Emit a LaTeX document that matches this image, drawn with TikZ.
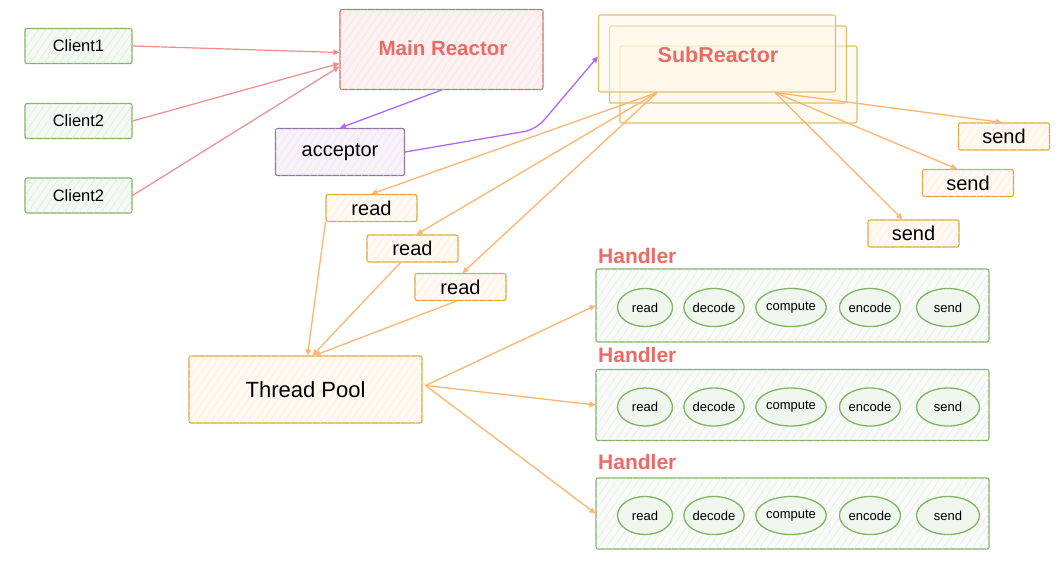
\documentclass[tikz,border=0pt]{standalone}
\usepackage{fontspec}
\setmainfont{Liberation Sans}
\usetikzlibrary{arrows.meta,patterns.meta,shapes.geometric}
\definecolor{redtxt}{HTML}{EA6B66}
\definecolor{redline}{HTML}{B85450}
\definecolor{redfill}{HTML}{F8CECC}
\definecolor{grnline}{HTML}{82B366}
\definecolor{grnfill}{HTML}{D5E8D4}
\definecolor{purline}{HTML}{9673A6}
\definecolor{purfill}{HTML}{E1D5E7}
\definecolor{yelline}{HTML}{D6B656}
\definecolor{yelfill}{HTML}{FFF2CC}
\definecolor{orgline}{HTML}{DDA93A}
\definecolor{orgfill}{HTML}{FFE6CC}
\definecolor{arrred}{HTML}{F08C8C}
\definecolor{arrpur}{HTML}{B266FF}
\definecolor{arrorg}{HTML}{FFB570}
\tikzset{
  hatch/.style={postaction={pattern={Lines[angle=55,distance=6pt,line width=0.4pt]},pattern color=#1}},
  bx/.style={draw, line width=1.1pt, rounded corners=2pt, inner sep=0pt},
  gbox/.style={bx, draw=grnline, fill=grnfill!30, hatch=grnfill!90!black!50, font=\fontsize{16.5}{19}\selectfont, minimum width=107pt, minimum height=35pt},
  rbox/.style={bx, draw=redline!80, fill=redfill!30, hatch=redfill!80!black!30},
  pbox/.style={bx, draw=purline, fill=purfill!30, hatch=purfill!90!black!40, font=\fontsize{20}{24}\selectfont},
  ybox/.style={bx, draw=yelline, fill=yelfill!50, fill opacity=0.5, draw opacity=0.85},
  obox/.style={bx, draw=orgline, fill=orgfill!30, hatch=orgfill!90!black!35, font=\fontsize{20}{24}\selectfont, minimum width=91pt, minimum height=27pt},
  hbox/.style={bx, draw=grnline, fill=grnfill!20, hatch=grnfill!80!black!30, minimum width=393pt},
  ell/.style={ellipse, draw=grnline, line width=1.3pt, fill=grnfill!40, inner sep=0pt, minimum height=38pt, font=\fontsize{13}{15}\selectfont},
  htitle/.style={anchor=west, text=redtxt, font=\bfseries\fontsize{21}{24}\selectfont, inner sep=0pt},
  tip/.style={-{Triangle[length=6pt,width=5.5pt]}},
  rarrow/.style={tip, draw=arrred, line width=1.2pt},
  parrow/.style={tip, draw=arrpur, line width=1.3pt},
  oarrow/.style={tip, draw=arrorg, line width=1.3pt},
}
\begin{document}
\begin{tikzpicture}[x=1pt,y=-1pt]
\useasboundingbox (0,0) rectangle (1058,566);
\fill[white] (0,0) rectangle (1058,566);

% clients
\node[gbox] (c1) at (78.5,46) {Client1};
\node[gbox] (c2) at (78.5,121) {Client2};
\node[gbox] (c3) at (78.5,195.5) {Client2};

% main reactor
\node[rbox, minimum width=203pt, minimum height=80pt] (mr) at (441.5,49.5) {};
\node[text=redtxt, font=\bfseries\fontsize{20.5}{24}\selectfont] (mrt) at (443,48) {Main Reactor};

% acceptor
\node[pbox, minimum width=129pt, minimum height=47pt] (acc) at (340,152) {acceptor};

% subreactor stack
\node[ybox, minimum width=237pt, minimum height=77pt] (sr3) at (738.5,84.5) {};
\node[ybox, minimum width=237pt, minimum height=77pt] (sr2) at (728,64.5) {};
\node[ybox, minimum width=237pt, minimum height=77pt] (sr) at (717,53.5) {};
\node[text=redtxt, font=\bfseries\fontsize{21.5}{24}\selectfont] (srt) at (718,55) {SubReactor};

% send boxes
\node[obox] (s1) at (1004,136.5) {send};
\node[obox] (s2) at (968,183) {send};
\node[obox] (s3) at (913.5,233.5) {send};

% read boxes
\node[obox] (r1) at (371.5,208) {read};
\node[obox] (r2) at (412.5,248.5) {read};
\node[obox] (r3) at (460.5,287) {read};

% thread pool
\node[obox, minimum width=233pt, minimum height=67pt, font=\fontsize{22}{26}\selectfont] (tp) at (305.5,389.5) {Thread Pool};

% handlers
\foreach \i/\y/\ty/\hh in {1/305.5/256/73, 2/405/355/71, 3/513.5/462/71} {
  \node[htitle] (ht\i) at (598,\ty) {Handler};
  \node[hbox, minimum height=\hh pt] (h\i) at (792.5,\y) {};
  \node[ell, minimum width=55pt] (h\i a) at (645,\y+2) {read};
  \node[ell, minimum width=50pt] (h\i b) at (714,\y+2) {decode};
  \node[ell, minimum width=64pt] (h\i c) at (791,\y+2) {compute};
  \node[ell, minimum width=61pt] (h\i d) at (870,\y+2) {encode};
  \node[ell, minimum width=63pt] (h\i e) at (948,\y+2) {send};
}

% connectors: clients -> main reactor
\draw[rarrow] (c1.east) -- ([yshift=-3pt]mr.west);
\draw[rarrow] (c2.east) -- ([yshift=-14pt]mr.west);
\draw[rarrow] (c3.east) -- ([yshift=-17pt]mr.west);

% main reactor -> acceptor -> subreactor
\draw[parrow] (mr.south) -- (acc.north);
\draw[parrow, rounded corners=12pt] (acc.east) -- ([xshift=-62pt, yshift=-37pt]sr.south west) -- ([yshift=-3pt]sr.west);

% subreactor -> reads
\draw[oarrow] ([xshift=-60pt]sr.south) -- (r1.north);
\draw[oarrow] ([xshift=-60pt]sr.south) -- ([xshift=4pt]r2.north);
\draw[oarrow] ([xshift=-60pt]sr.south) -- ([xshift=2pt]r3.north);

% subreactor -> sends
\draw[oarrow] ([xshift=58pt]sr.south) -- ([xshift=-2pt]s1.north);
\draw[oarrow] ([xshift=58pt]sr.south) -- ([xshift=-11pt]s2.north);
\draw[oarrow] ([xshift=58pt]sr.south) -- ([xshift=-11pt]s3.north);

% reads -> thread pool
\draw[oarrow] (r1.south west) -- ([xshift=2pt]tp.north);
\draw[oarrow] ([xshift=-12pt]r2.south) -- ([xshift=7pt]tp.north);
\draw[oarrow] ([xshift=-4pt]r3.south) -- ([xshift=9pt]tp.north);

% thread pool -> handlers
\draw[oarrow] ([xshift=3pt, yshift=4pt]tp.east) -- (h1.west);
\draw[oarrow] ([xshift=3pt, yshift=4pt]tp.east) -- (h2.west);
\draw[oarrow] ([xshift=3pt, yshift=4pt]tp.east) -- (h3.west);
\end{tikzpicture}
\end{document}
